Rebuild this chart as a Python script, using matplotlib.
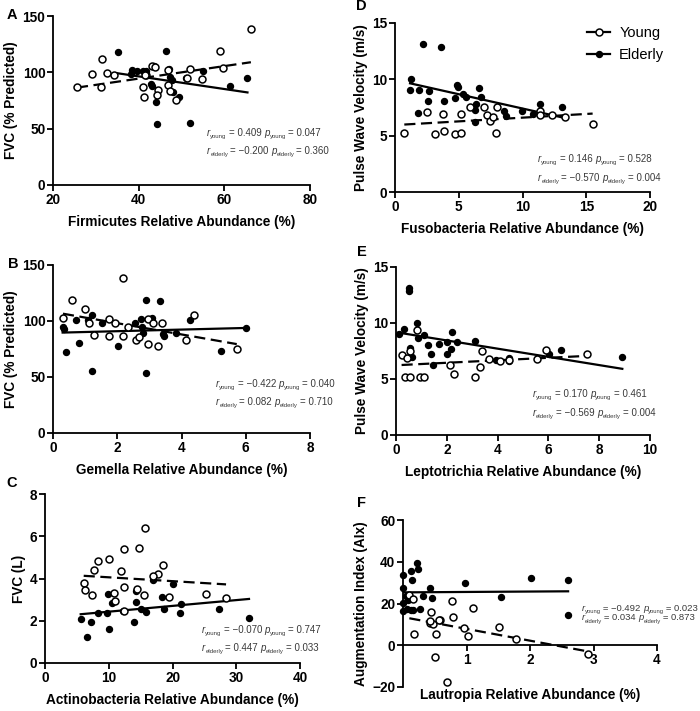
import numpy as np
import matplotlib
matplotlib.use("Agg")
import matplotlib.pyplot as plt
from matplotlib.lines import Line2D

plt.rcParams['font.family'] = ['Liberation Sans', 'DejaVu Sans']

# ---------------- Data ----------------
# Panel A: Firmicutes vs FVC (% predicted)
a_young_x = [25.6, 29.2, 31.5, 31.2, 32.7, 34.2, 41.2, 40.9, 41.8, 43.0, 44.5, 44.3, 46.8, 46.9,
             47.4, 48.8, 51.4, 52.0, 54.7, 59.0, 59.6, 66.2, 43.8, 41.5]
a_young_y = [87.3, 98.5, 111.5, 87.3, 99.7, 97.3, 78.4, 87.3, 97.6, 105.6, 84.3, 80.2, 88.5, 102.0,
             83.7, 75.4, 95.3, 102.7, 94.4, 119.2, 103.5, 138.2, 105.0, 98.0]
a_old_x = [35.1, 38.1, 38.5, 39.6, 40.9, 41.8, 43.1, 43.5, 44.0, 44.2, 46.3, 47.0, 47.4, 47.7,
           47.9, 49.5, 51.0, 52.0, 55.1, 61.3, 65.4, 42.8]
a_old_y = [118.0, 98.5, 102.0, 101.5, 101.5, 101.5, 87.9, 105.6, 74.0, 54.0, 119.2, 102.7, 95.6, 93.2,
           82.8, 78.4, 94.7, 55.3, 101.5, 88.2, 95.3, 90.0]

# Panel B: Gemella vs FVC (% predicted)
b_young_x = [0.31, 0.58, 0.99, 1.12, 1.28, 1.75, 1.75, 1.94, 2.17, 2.17, 2.32, 2.58, 2.69, 2.95,
             2.97, 3.10, 3.27, 3.38, 4.15, 4.39, 5.72]
b_young_y = [102.7, 118.8, 110.8, 98.0, 87.6, 101.6, 86.7, 98.0, 138.1, 86.7, 95.0, 82.6, 86.1, 101.6,
             79.6, 98.0, 77.7, 98.6, 82.6, 105.2, 74.9]
b_old_x = [0.30, 0.35, 0.41, 0.72, 0.80, 1.08, 1.22, 1.20, 1.54, 2.01, 2.56, 2.74, 2.77, 2.80,
           2.90, 2.90, 3.09, 3.34, 3.42, 3.47, 3.84, 4.28, 5.23, 6.00]
b_old_y = [94.4, 93.2, 72.7, 101.0, 80.8, 101.0, 105.8, 55.0, 98.0, 77.7, 98.0, 101.6, 95.0, 89.0,
           118.8, 53.6, 102.7, 118.2, 88.4, 86.7, 89.7, 101.0, 73.6, 93.5]

# Panel C: Actinobacteria vs FVC (L)
c_young_x = [15.7, 12.4, 14.8, 8.3, 10.0, 7.75, 11.9, 18.5, 17.7, 17.0, 6.07, 6.3, 7.3, 10.8,
             12.4, 14.5, 15.6, 11.0, 19.4, 12.4, 25.3, 28.4]
c_young_y = [6.38, 5.41, 5.43, 4.84, 4.91, 4.40, 4.37, 4.62, 4.21, 4.12, 3.77, 3.46, 3.23, 3.30,
             3.61, 3.52, 3.23, 2.93, 3.14, 2.48, 3.27, 3.09]
c_old_x = [5.6, 6.55, 7.2, 8.3, 9.7, 10.0, 9.9, 10.5, 12.2, 13.9, 14.2, 14.2, 15.1, 15.8,
           16.9, 18.4, 18.7, 20.0, 21.1, 21.4, 27.3, 32.0]
c_old_y = [2.07, 1.22, 1.94, 2.35, 2.35, 1.60, 3.27, 2.83, 2.48, 1.94, 2.89, 3.39, 2.54, 2.41,
           3.93, 3.14, 2.54, 3.74, 2.35, 2.79, 2.54, 2.12]

# Panel D: Fusobacteria vs PWV
d_young_x = [0.73, 2.48, 3.10, 3.87, 3.74, 4.71, 5.20, 5.15, 5.88, 7.00, 7.24, 7.48, 7.65, 7.90,
             7.97, 11.4, 11.4, 12.3, 13.3, 15.5]
d_young_y = [5.23, 7.13, 5.14, 5.44, 6.92, 5.11, 5.23, 6.92, 7.55, 7.57, 6.83, 6.27, 6.68, 5.23,
             7.55, 7.22, 6.80, 6.80, 6.62, 6.03]
d_old_x = [1.23, 1.18, 1.80, 1.88, 2.20, 2.56, 2.64, 3.58, 3.84, 4.71, 4.89, 4.94, 5.36, 5.54,
           6.27, 6.35, 6.30, 6.61, 6.75, 8.55, 8.70, 9.96, 10.85, 11.4, 13.1]
d_old_y = [10.04, 9.06, 6.98, 9.06, 13.16, 8.10, 8.94, 12.84, 8.05, 8.34, 9.47, 9.30, 8.70, 8.40,
           7.28, 7.81, 6.24, 9.20, 8.40, 7.22, 6.74, 7.22, 6.92, 7.81, 7.57]

# Panel E: Leptotrichia vs PWV
e_young_x = [0.22, 0.35, 0.42, 0.55, 0.55, 0.81, 0.94, 1.10, 2.13, 2.30, 3.11, 3.31, 3.37, 3.65,
             4.09, 4.44, 5.56, 5.90, 7.53]
e_young_y = [7.13, 5.20, 6.90, 5.20, 7.50, 9.41, 5.14, 5.20, 6.24, 5.44, 5.20, 6.03, 7.50, 6.83,
             6.62, 6.74, 6.83, 7.57, 7.22]
e_old_x = [0.10, 0.33, 0.50, 0.52, 0.55, 0.62, 0.81, 0.87, 1.10, 1.26, 1.38, 1.47, 1.68, 2.00,
           2.02, 2.15, 2.22, 2.39, 3.11, 3.94, 4.44, 4.46, 6.04, 6.50, 8.91]
e_old_y = [9.06, 9.50, 13.16, 12.87, 7.81, 6.92, 10.00, 8.70, 8.90, 8.00, 7.22, 6.24, 8.10, 7.22,
           8.28, 7.70, 9.20, 8.31, 8.40, 6.74, 6.90, 6.62, 7.22, 7.63, 6.92]

# Panel F: Lautropia vs AIx
f_young_x = [0.10, 0.17, 0.44, 0.42, 0.47, 0.52, 0.50, 0.58, 0.77, 0.78, 0.96, 1.03, 1.11, 1.51,
             1.78, 0.69, 2.92, 0.56, 0.15, 0.43]
f_young_y = [24.0, 5.3, 16.0, 10.7, 10.4, 5.3, -5.6, 12.3, 21.1, 13.3, 8.5, 4.5, 17.9, 8.8,
             3.2, -17.6, -4.0, 12.3, 22.0, 11.7]
f_old_x = [0.00, 0.00, 0.13, 0.22, 0.23, 0.14, 0.43, 0.45, 0.31, 0.27, 0.98, 1.54, 2.02, 2.60,
           2.60, 0.00, 0.08, 0.07, 0.13, 0.00, 0.05, 0.15]
f_old_y = [33.6, 27.5, 35.8, 39.5, 36.3, 31.2, 27.5, 22.7, 23.7, 17.3, 29.9, 23.2, 32.2, 31.2,
           14.7, 16.6, 21.6, 17.6, 16.8, 20.4, 23.7, 16.8]

# Annotation values
stats = {
    'A': ('0.409', '0.047', '\u22120.200', '0.360'),
    'B': ('\u22120.422', '0.040', '0.082', '0.710'),
    'C': ('\u22120.070', '0.747', '0.447', '0.033'),
    'D': ('0.146', '0.528', '\u22120.570', '0.004'),
    'E': ('0.170', '0.461', '\u22120.569', '0.004'),
    'F': ('\u22120.492', '0.023', '0.034', '0.873'),
}

W, H = 700, 711
fig = plt.figure(figsize=(W / 100, H / 100), dpi=100)
renderer = fig.canvas.get_renderer()
TXT_COLOR = '#3a3a3a'


def px_axes(l, t, r, b):
    return fig.add_axes([l / W, 1 - b / H, (r - l) / W, (b - t) / H])


def rich_line(x_px, y_px, pieces, size):
    """Draw a line of text pieces one after another (pixel coordinates, top-left origin)."""
    x = x_px
    for txt, kind in pieces:
        if kind == 'sub':
            fs, style, dy = size * 0.62, 'normal', 2.0
        elif kind == 'it':
            fs, style, dy = size, 'italic', 0.0
        else:
            fs, style, dy = size, 'normal', 0.0
        t = fig.text(x / W, 1 - (y_px + dy) / H, txt, fontsize=fs, fontstyle=style,
                     ha='left', va='baseline', color=TXT_COLOR)
        bb = t.get_window_extent(renderer)
        x += bb.width


def stat_lines(x_px, y_px, gap, st, size=7.0):
    ry, py, ro, po = st
    rich_line(x_px, y_px, [('r', 'it'), ('young', 'sub'), ('\u2009= ' + ry + ' ', 'n'),
                           ('p', 'it'), ('young', 'sub'), ('\u2009= ' + py, 'n')], size)
    rich_line(x_px, y_px + gap, [('r', 'it'), ('elderly', 'sub'), ('\u2009= ' + ro + ' ', 'n'),
                                 ('p', 'it'), ('elderly', 'sub'), ('\u2009= ' + po, 'n')], size)


def panel(rect, yx, yy, ox, oy, xlim, ylim, xticks, yticks, xlabel, ylabel,
          letter, letter_pos, st, text_pos, line_gap, zero_axis=False, tsize=7.0):
    ax = px_axes(*rect)
    for s in ['top', 'right']:
        ax.spines[s].set_visible(False)
    for s in ['left', 'bottom']:
        ax.spines[s].set_linewidth(1.3)
    ax.set_xlim(*xlim)
    ax.set_ylim(*ylim)
    ax.set_xticks(xticks)
    ax.set_yticks(yticks)
    ax.tick_params(direction='out', length=4, width=1.3, labelsize=9.8, pad=1.5)
    ax.set_xlabel(xlabel, fontsize=9.8, fontweight='bold', labelpad=6)
    ax.set_ylabel(ylabel, fontsize=9.8, fontweight='bold', labelpad=3)
    if zero_axis:
        ax.spines['bottom'].set_position(('data', 0))
        ax.set_xticks(xticks[1:])
        ax.xaxis.set_label_coords(0.5, -0.05)
        ax.xaxis.label.set_va('center')
    for lab in ax.get_xticklabels() + ax.get_yticklabels():
        lab.set_fontweight('bold')
    # regression lines
    for xs, ys, ls in [(yx, yy, (0, (5, 2.5))), (ox, oy, '-')]:
        xs = np.asarray(xs); ys = np.asarray(ys)
        k, c = np.polyfit(xs, ys, 1)
        xx = np.array([xs.min(), xs.max()])
        ax.plot(xx, k * xx + c, color='black', lw=1.6, linestyle=ls, zorder=2)
    ax.plot(ox, oy, 'o', ms=4.3, mfc='black', mec='black', lw=0, zorder=3, clip_on=False)
    ax.plot(yx, yy, 'o', ms=5.0, mfc='white', mec='black', mew=1.1, lw=0, zorder=4, clip_on=False)
    fig.text(letter_pos[0] / W, 1 - letter_pos[1] / H, letter, fontsize=10.5,
             fontweight='bold', ha='center', va='center')
    stat_lines(text_pos[0], text_pos[1], line_gap, st, tsize)
    return ax


# text_pos = baseline of first stats line (pixels)
panel((53, 16, 310, 185), a_young_x, a_young_y, a_old_x, a_old_y, (20, 80), (0, 150),
      [20, 40, 60, 80], [0, 50, 100, 150], 'Firmicutes Relative Abundance (%)', 'FVC (% Predicted)',
      'A', (12, 15), stats['A'], (207, 136), 18)
panel((53, 265, 310, 433), b_young_x, b_young_y, b_old_x, b_old_y, (0, 8), (0, 150),
      [0, 2, 4, 6, 8], [0, 50, 100, 150], 'Gemella Relative Abundance (%)', 'FVC (% Predicted)',
      'B', (13, 264), stats['B'], (216, 387), 18)
panel((45, 494, 300, 663), c_young_x, c_young_y, c_old_x, c_old_y, (0, 40), (0, 8),
      [0, 10, 20, 30, 40], [0, 2, 4, 6, 8], 'Actinobacteria Relative Abundance (%)', 'FVC (L)',
      'C', (12, 483), stats['C'], (202, 633), 18)
panel((395, 23, 650, 192), d_young_x, d_young_y, d_old_x, d_old_y, (0, 20), (0, 15),
      [0, 5, 10, 15, 20], [0, 5, 10, 15], 'Fusobacteria Relative Abundance (%)', 'Pulse Wave Velocity (m/s)',
      'D', (361, 6), stats['D'], (538, 162), 19)
panel((396, 267, 650, 435), e_young_x, e_young_y, e_old_x, e_old_y, (0, 10), (0, 15),
      [0, 2, 4, 6, 8, 10], [0, 5, 10, 15], 'Leptotrichia Relative Abundance (%)', 'Pulse Wave Velocity (m/s)',
      'E', (362, 252), stats['E'], (533, 397), 19)
panel((403, 520, 657, 687), f_young_x, f_young_y, f_old_x, f_old_y, (0, 4), (-20, 60),
      [0, 1, 2, 3, 4], [-20, 0, 20, 40, 60], 'Lautropia Relative Abundance (%)', 'Augmentation Index (AIx)',
      'F', (362, 503), stats['F'], (582, 611), 9.5, zero_axis=True, tsize=6.8)

handles = [Line2D([], [], color='black', lw=1.6, marker='o', ms=5, mfc='white', mec='black', mew=1.1),
           Line2D([], [], color='black', lw=1.6, marker='o', ms=4.3, mfc='black', mec='black')]
fig.legend(handles, ['Young', 'Elderly'], loc='upper left', bbox_to_anchor=(574 / W, 1 - 13 / H),
           frameon=False, fontsize=10.5, handlelength=1.6, handletextpad=0.6, labelspacing=0.55)

fig.savefig('out.png', dpi=100)
